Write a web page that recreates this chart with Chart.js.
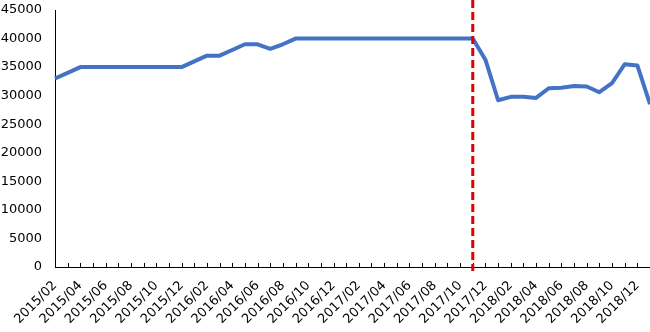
<!DOCTYPE html>
<html><head><meta charset="utf-8">
<script src="https://cdn.jsdelivr.net/npm/chart.js@4/dist/chart.umd.min.js"></script>
<style>html,body{margin:0;padding:0;background:#fff;}canvas{display:block;}</style>
</head><body>
<canvas id="c" width="650" height="332"></canvas>
<script>
const categories = [
 '2015/02','2015/03','2015/04','2015/05','2015/06','2015/07','2015/08','2015/09','2015/10','2015/11','2015/12',
 '2016/01','2016/02','2016/03','2016/04','2016/05','2016/06','2016/07','2016/08','2016/09','2016/10','2016/11','2016/12',
 '2017/01','2017/02','2017/03','2017/04','2017/05','2017/06','2017/07','2017/08','2017/09','2017/10','2017/11','2017/12',
 '2018/01','2018/02','2018/03','2018/04','2018/05','2018/06','2018/07','2018/08','2018/09','2018/10','2018/11','2018/12',
 '2019/01'
];
const values = [
 33000,34000,35000,35000,35000,35000,35000,35000,35000,35000,35000,
 36000,37000,37000,38000,39000,39000,38200,39000,40000,40000,40000,40000,
 40000,40000,40000,40000,40000,40000,40000,40000,40000,40000,40000,36300,
 29200,29800,29800,29600,31300,31400,31700,31600,30600,32200,35500,35300,
 28500
];
const markerCategory = '2017/11';
const yTicks = {min:0, max:45000, step:5000};

const markerPlugin = {
  id:'marker',
  afterDatasetsDraw(chart){
    const xs = chart.scales.x;
    const a = chart.chartArea;
    const ctx = chart.ctx;
    ctx.save();
    ctx.strokeStyle = '#000';
    ctx.lineWidth = 1;
    ctx.beginPath();
    for (let i = 1; i < categories.length; i++) {
      const px = Math.round(xs.getPixelForValue(i)) + 0.5;
      ctx.moveTo(px, a.bottom);
      ctx.lineTo(px, a.bottom - 4);
    }
    ctx.stroke();
    const x = xs.getPixelForValue(categories.indexOf(markerCategory));
    ctx.strokeStyle = '#e00000';
    ctx.lineWidth = 3;
    ctx.setLineDash([8,4]);
    ctx.beginPath();
    ctx.moveTo(x, 0);
    ctx.lineTo(x, a.bottom + 4);
    ctx.stroke();
    ctx.restore();
  }
};

new Chart(document.getElementById('c'), {
  type:'line',
  data:{labels:categories, datasets:[{data:values, borderColor:'#4472C4', borderWidth:4, pointRadius:0, tension:0, fill:false, borderJoinStyle:'round'}]},
  options:{
    responsive:false, animation:false,
    layout:{padding:{top:10,right:0,left:0,bottom:0}},
    plugins:{legend:{display:false}, tooltip:{enabled:false}},
    scales:{
      x:{
        offset:false,
        afterFit:(s)=>{ s.paddingRight = 0; s.paddingLeft = 0; s.height = 65; },
        grid:{display:false, drawTicks:false},
        border:{color:'#000', width:1},
        ticks:{autoSkip:false, maxRotation:45, minRotation:45, color:'#000', padding:11,
          font:{family:'DejaVu Sans', size:13},
          callback:(v,i)=> i%2===0 ? categories[i] : ''}
      },
      y:{
        min:yTicks.min, max:yTicks.max,
        afterFit:(s)=>{ s.paddingTop = 0; s.paddingBottom = 0; s.width = 55; },
        grid:{display:false, drawTicks:false},
        border:{color:'#000', width:1},
        ticks:{stepSize:yTicks.step, color:'#000', padding:13, font:{family:'DejaVu Sans', size:13},
          callback:(v)=> String(v)}
      }
    }
  },
  plugins:[markerPlugin]
});
</script>
</body></html>
